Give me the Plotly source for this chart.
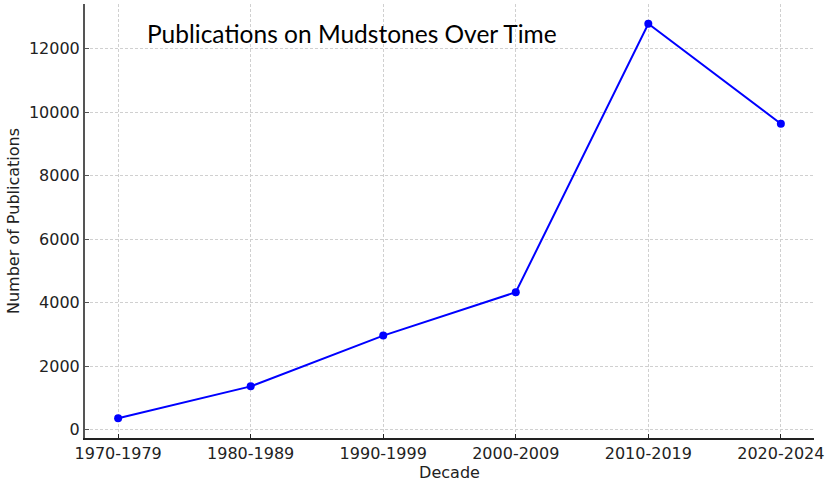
import plotly.graph_objects as go

decades = ["1970-1979", "1980-1989", "1990-1999", "2000-2009", "2010-2019", "2020-2024"]
publications = [360, 1365, 2965, 4330, 12790, 9640]
y_ticks = [0, 2000, 4000, 6000, 8000, 10000, 12000]

title_text = "Publica\u200ctions on Mudstones Over Time"
x_label = "Decade"
y_label = "Number of Publications"

span = max(publications) - min(publications)
y_range = [min(publications) - 0.05 * span, max(publications) + 0.05 * span]

fig = go.Figure()
fig.add_trace(go.Scatter(
    x=list(range(len(decades))), y=publications, mode="lines+markers",
    line=dict(color="#0000ff", width=2),
    marker=dict(color="#0000ff", size=8),
    showlegend=False,
))

grid = dict(showgrid=True, gridcolor="#d0d0d0", gridwidth=0.8, griddash="3px,2px")
fig.update_layout(
    width=834, height=490,
    margin=dict(l=85, r=20, t=4, b=52, autoexpand=False),
    paper_bgcolor="white", plot_bgcolor="white",
    font=dict(family="DejaVu Sans", size=15, color="#222222"),
    annotations=[dict(
        text=title_text, xref="paper", yref="paper", x=0.082, y=0.933,
        xanchor="left", yanchor="middle", showarrow=False,
        font=dict(family="Lato", size=24.5, color="#000000"),
    )],
)
fig.update_xaxes(
    range=[-0.25, len(decades) - 0.75], automargin=False,
    tickmode="array", tickvals=list(range(len(decades))), ticktext=decades,
    tickfont=dict(size=16),
    showline=True, linecolor="#222222", linewidth=1.5,
    ticks="inside", ticklen=4, tickcolor="#222222",
    title=dict(text=x_label, standoff=2, font=dict(size=16)), zeroline=False, **grid,
)
fig.update_yaxes(
    range=y_range, tickmode="array", tickvals=y_ticks, tickformat="d",
    automargin=False, tickfont=dict(size=16),
    showline=True, linecolor="#555555", linewidth=2,
    ticks="inside", ticklen=4, tickcolor="#555555",
    title=dict(text=y_label, standoff=5, font=dict(size=16)), zeroline=False, **grid,
)

fig.write_html(
    "out.html",
    config={"displayModeBar": False},
    post_script="document.body.style.margin='0';document.body.style.overflow='hidden';",
)
